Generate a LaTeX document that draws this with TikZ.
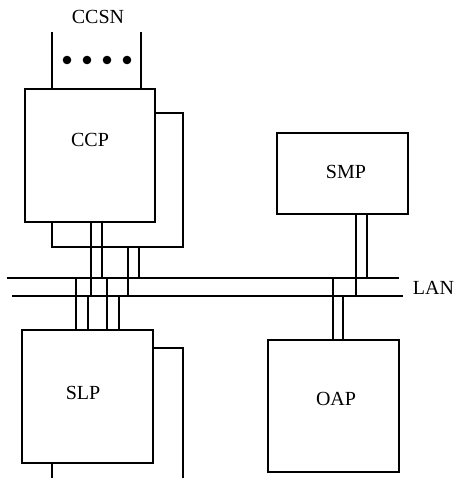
\documentclass[tikz,border=0pt]{standalone}
\usepackage{fontspec}
\setmainfont{Liberation Serif}
\begin{document}
\begin{tikzpicture}[x=1pt,y=-1pt,line width=1.7pt,
  box/.style={draw,rectangle,inner sep=0pt,line width=1.7pt},
  lbl/.style={font=\fontsize{20}{22}\selectfont,inner sep=0pt},
  wire/.style={line width=1.7pt}]
\useasboundingbox (0,0) rectangle (453,478);
% boxes
\node[box,minimum width=130pt,minimum height=133pt] (ccp) at (90,155.5) {};
\node[box,minimum width=131pt,minimum height=133pt] (slp) at (87.5,396.5) {};
\node[box,minimum width=131pt,minimum height=81pt] (smp) at (342.5,173.5) {};
\node[box,minimum width=131pt,minimum height=132pt] (oap) at (333.5,406) {};
% labels
\node[lbl] (ccsntxt) at (98,17) {CCSN};
\node[lbl] (ccptxt) at (90,140) {CCP};
\node[lbl] (slptxt) at (83,393) {SLP};
\node[lbl] (smptxt) at (346,172) {SMP};
\node[lbl] (oaptxt) at (336,399) {OAP};
\node[lbl,anchor=west] (lantxt) at (412,288) {LAN};
% CCSN links
\coordinate (cs1) at (52,32);
\coordinate (cs2) at (141,32);
\draw[wire] (cs1) -- (cs1 |- ccp.north);
\draw[wire] (cs2) -- (cs2 |- ccp.north);
\foreach \x in {67,87,107,127} \fill (\x,60) circle (4.3pt);
% CCP back box
\coordinate (ccpbk) at (183,113);
\coordinate (ccpbb) at (183,247);
\draw[wire] (ccp.east |- ccpbk) -- (ccpbk) -- (ccpbb) -- (52,247) -- (52,222);
% SLP back box
\coordinate (slpbk) at (183,348);
\draw[wire] (slp.east |- slpbk) -- (slpbk) -- (183,478);
\coordinate (slpb) at (52,478);
\draw[wire] (slpb |- slp.south) -- (slpb);
% LAN
\coordinate (lanUw) at (7,278);
\coordinate (lanUe) at (399,278);
\coordinate (lanLw) at (12,296);
\coordinate (lanLe) at (403,296);
\draw[wire] (lanUw) -- (lanUe);
\draw[wire] (lanLw) -- (lanLe);
% CCP to LAN
\coordinate (c1) at ([xshift=67pt]ccp.south west);
\coordinate (c2) at ([xshift=78pt]ccp.south west);
\draw[wire] (c1) -- (c1 |- lanLw);
\draw[wire] (c2) -- (c2 |- lanUw);
\coordinate (b1) at (128,247);
\coordinate (b2) at (139,247);
\draw[wire] (b1) -- (b1 |- lanLw);
\draw[wire] (b2) -- (b2 |- lanUw);
% SLP to LAN
\coordinate (s1) at ([xshift=55pt]slp.north west);
\coordinate (s2) at ([xshift=67pt]slp.north west);
\coordinate (s3) at ([xshift=86pt]slp.north west);
\coordinate (s4) at ([xshift=98pt]slp.north west);
\draw[wire] (s1) -- (s1 |- lanUw);
\draw[wire] (s2) -- (s2 |- lanLw);
\draw[wire] (s3) -- (s3 |- lanUw);
\draw[wire] (s4) -- (s4 |- lanLw);
% SMP to LAN
\coordinate (m1) at ([xshift=80pt]smp.south west);
\coordinate (m2) at ([xshift=91pt]smp.south west);
\draw[wire] (m1) -- (m1 |- lanLw);
\draw[wire] (m2) -- (m2 |- lanUw);
% OAP to LAN
\coordinate (o1) at ([xshift=66pt]oap.north west);
\coordinate (o2) at ([xshift=76pt]oap.north west);
\draw[wire] (o1) -- (o1 |- lanUw);
\draw[wire] (o2) -- (o2 |- lanLw);
\end{tikzpicture}
\end{document}
